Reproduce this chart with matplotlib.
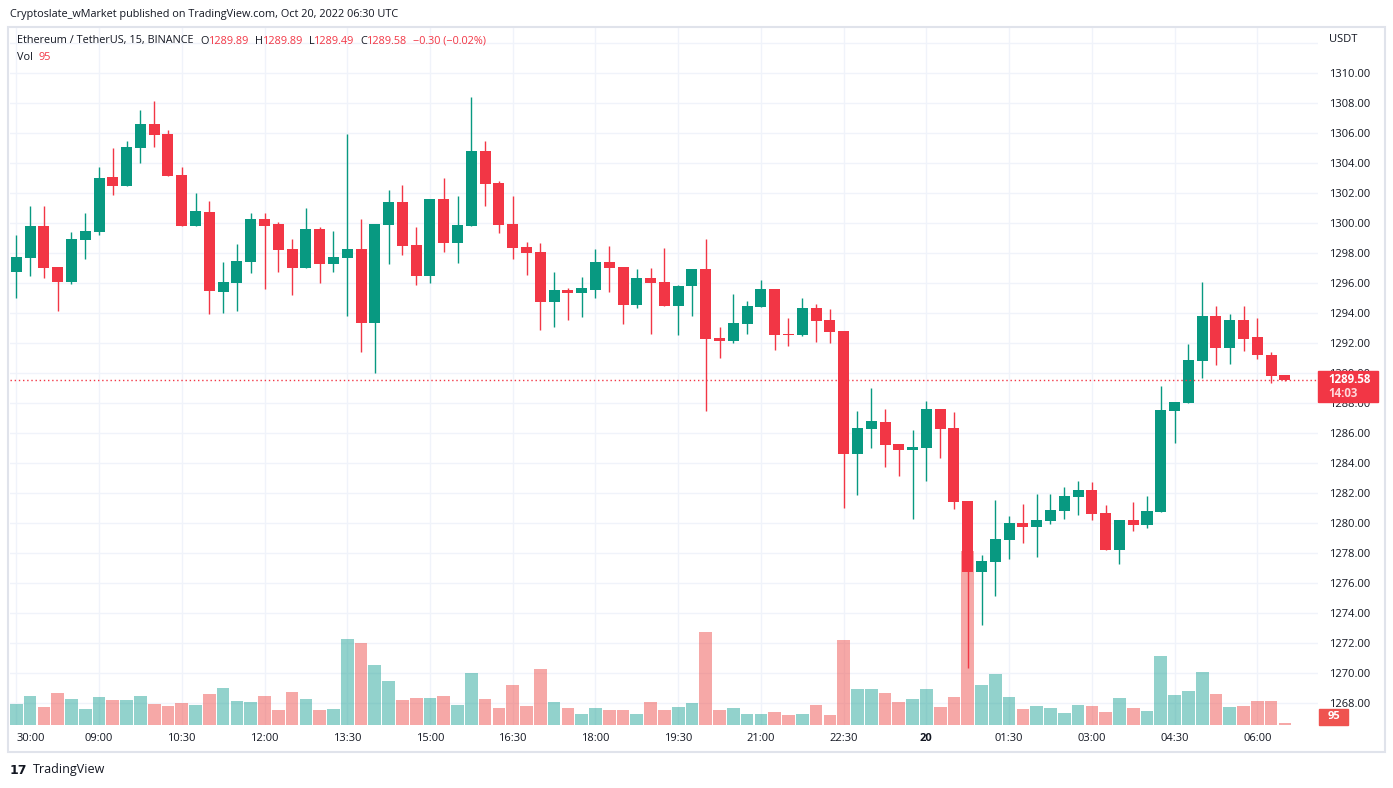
import numpy as np
import matplotlib.pyplot as plt
from matplotlib.patches import Rectangle

# 15-minute ETH/USDT candles, 07:30 Oct 19 -> 06:30 Oct 20
opens = [1296.78, 1297.71, 1299.82, 1297.09, 1296.11, 1298.91, 1299.44, 1303.09, 1302.51, 1305.04,
         1306.62, 1305.95, 1303.22, 1299.84, 1300.75, 1295.42, 1296.04, 1297.44, 1300.29, 1299.95,
         1298.29, 1297.04, 1299.62, 1297.31, 1297.71, 1298.29, 1293.38, 1299.91, 1301.42, 1298.55,
         1296.51, 1301.62, 1298.71, 1299.84, 1304.82, 1302.69, 1299.95, 1298.42, 1298.09, 1294.78,
         1295.55, 1295.38, 1295.55, 1297.42, 1297.09, 1294.58, 1296.36, 1296.09, 1294.51, 1295.82,
         1296.95, 1292.35, 1292.18, 1293.31, 1294.44, 1295.62, 1292.64, 1292.58, 1294.35, 1293.55,
         1292.84, 1284.64, 1286.31, 1286.75, 1285.29, 1284.91, 1285.04, 1287.62, 1286.35, 1281.49,
         1276.78, 1277.44, 1278.91, 1280.02, 1279.78, 1280.18, 1280.84, 1281.78, 1282.22, 1280.69,
         1278.24, 1280.22, 1279.91, 1280.78, 1287.51, 1288.04, 1290.84, 1293.82, 1291.71, 1293.55,
         1292.42, 1291.20, 1289.89]
highs = [1299.22, 1301.15, 1301.15, 1297.09, 1299.42, 1300.69, 1303.75, 1305.02, 1305.49, 1307.55,
         1308.15, 1306.22, 1303.75, 1302.02, 1301.49, 1297.42, 1298.62, 1300.69, 1300.69, 1300.09,
         1298.95, 1301.02, 1299.75, 1299.49, 1305.95, 1300.29, 1299.95, 1302.22, 1302.55, 1299.75,
         1301.62, 1303.02, 1301.82, 1308.42, 1305.49, 1302.82, 1301.82, 1298.75, 1298.69, 1296.75,
         1295.69, 1296.42, 1298.29, 1298.49, 1297.09, 1296.96, 1297.02, 1298.38, 1295.89, 1296.96,
         1298.95, 1293.09, 1295.29, 1294.82, 1296.22, 1295.62, 1293.69, 1295.02, 1294.62, 1294.29,
         1292.84, 1287.49, 1289.02, 1287.62, 1285.29, 1286.22, 1288.15, 1287.62, 1287.42, 1281.49,
         1277.89, 1281.55, 1280.49, 1281.29, 1281.95, 1281.95, 1282.42, 1282.82, 1282.75, 1281.22,
         1280.22, 1281.42, 1281.82, 1289.15, 1288.09, 1291.95, 1296.09, 1294.49, 1293.95, 1294.49,
         1293.69, 1291.42, 1289.89]
lows = [1295.04, 1296.51, 1296.37, 1294.18, 1295.98, 1297.64, 1299.24, 1301.91, 1302.51, 1304.04,
        1305.11, 1303.18, 1299.84, 1299.84, 1293.98, 1294.04, 1294.18, 1296.71, 1295.64, 1296.78,
        1295.24, 1297.04, 1296.04, 1296.78, 1293.84, 1291.44, 1290.04, 1297.31, 1297.91, 1295.91,
        1296.04, 1298.11, 1297.38, 1299.84, 1301.18, 1299.38, 1297.64, 1296.58, 1292.91, 1293.11,
        1293.58, 1293.78, 1295.04, 1295.44, 1293.31, 1294.38, 1292.64, 1294.51, 1292.58, 1293.84,
        1287.51, 1291.04, 1292.04, 1292.64, 1294.44, 1291.58, 1291.84, 1292.51, 1292.11, 1292.04,
        1281.04, 1281.91, 1285.04, 1283.78, 1283.18, 1280.31, 1282.84, 1284.38, 1280.98, 1270.38,
        1273.24, 1275.18, 1277.64, 1278.71, 1277.78, 1279.98, 1280.31, 1280.58, 1280.24, 1278.24,
        1277.31, 1279.51, 1279.71, 1280.78, 1285.38, 1288.04, 1289.71, 1290.58, 1290.64, 1291.51,
        1290.98, 1289.38, 1289.49]
closes = [1297.75, 1299.82, 1297.04, 1296.11, 1298.95, 1299.49, 1303.02, 1302.51, 1305.09, 1306.62,
          1305.91, 1303.18, 1299.84, 1300.82, 1295.51, 1296.09, 1297.49, 1300.29, 1299.84, 1298.24,
          1297.04, 1299.62, 1297.31, 1297.75, 1298.29, 1293.38, 1299.95, 1301.42, 1298.51, 1296.51,
          1301.62, 1298.71, 1299.89, 1304.82, 1302.64, 1299.91, 1298.38, 1298.04, 1294.78, 1295.55,
          1295.38, 1295.69, 1297.42, 1297.04, 1294.58, 1296.36, 1296.04, 1294.51, 1295.82, 1296.96,
          1292.31, 1292.18, 1293.35, 1294.49, 1295.62, 1292.58, 1292.55, 1294.35, 1293.51, 1292.78,
          1284.64, 1286.35, 1286.82, 1285.24, 1284.91, 1285.09, 1287.62, 1286.31, 1281.44, 1276.78,
          1277.49, 1278.95, 1280.02, 1279.78, 1280.22, 1280.89, 1281.82, 1282.22, 1280.64, 1278.24,
          1280.22, 1279.91, 1280.82, 1287.55, 1288.09, 1290.89, 1293.82, 1291.71, 1293.55, 1292.31,
          1291.24, 1289.84, 1289.58]
volumes = [1159, 1607, 991, 1775, 1439, 879, 1551, 1383, 1383, 1607,
           1159, 1047, 1215, 1103, 1719, 2055, 1327, 1271, 1607, 823,
           1831, 1439, 823, 879, 4799, 4575, 3343, 2447, 1383, 1495,
           1495, 1607, 1103, 2895, 1439, 935, 2223, 1047, 3119, 1271,
           935, 599, 935, 823, 823, 599, 1271, 823, 991, 1215,
           5191, 823, 935, 599, 599, 711, 543, 599, 1103, 543,
           4743, 1999, 1999, 1775, 1271, 1439, 1999, 991, 1551, 9727,
           2223, 2839, 1551, 879, 1047, 935, 655, 1103, 1047, 711,
           1495, 935, 767, 3847, 1663, 1887, 2951, 1719, 991, 1047,
           1327, 1327, 95]
time_labels = ["30:00", "09:00", "10:30", "12:00", "13:30", "15:00", "16:30", "18:00",
               "19:30", "21:00", "22:30", "20", "01:30", "03:00", "04:30", "06:00"]
price_ticks = np.arange(1268, 1313, 2)

GREEN, RED = "#089981", "#f23645"
VGREEN, VRED = "#26a69a", "#ef5350"
GRID, TEXT, BORDER = "#f0f3fa", "#131722", "#e0e3eb"

plt.rcParams["font.family"] = ["Open Sans", "DejaVu Sans"]

W, H = 1393, 788
fig = plt.figure(figsize=(W / 100, H / 100), dpi=100)
pos = [10 / W, 1 - 725 / H, 1308 / W, 698 / H]

ax = fig.add_axes(pos)                           # grid + price scale
axv = fig.add_axes(pos, sharex=ax)               # volume overlay
axc = fig.add_axes(pos, sharex=ax, sharey=ax)    # candles
for a in (axv, axc):
    a.patch.set_visible(False)
    a.axis("off")

idx = np.arange(len(opens))
o, c = np.array(opens), np.array(closes)
up = c >= o

ax.set_xlim(-0.457, 94.4)
ax.set_ylim(1266.553, 1313.087)
axv.set_ylim(0, 698 * 56)

# grid / scales
ax.set_yticks(price_ticks)
ax.set_yticklabels([f"{v:.2f}" if v < 1311 else "" for v in price_ticks])
ax.yaxis.tick_right()
ax.set_xticks(np.arange(0, 91, 6))
ax.set_xticklabels(time_labels)
ax.grid(color=GRID, lw=1)
ax.set_axisbelow(True)
ax.tick_params(length=0, labelsize=8, colors=TEXT)
ax.tick_params(axis="y", pad=8)
ax.tick_params(axis="x", pad=6)
for s in ax.spines.values():
    s.set_visible(False)
for t in ax.get_xticklabels():
    if t.get_text() == "20":
        t.set_fontweight("bold")
    if t.get_text() == "30:00":
        t.set_ha("left")

# volume
axv.bar(idx, volumes, width=0.92, color=np.where(up, VGREEN, VRED), alpha=0.5, lw=0)

# candles
cols = np.where(up, GREEN, RED)
axc.vlines(idx, lows, highs, colors=cols, lw=1)
axc.bar(idx, np.maximum(np.abs(c - o), 0.07), bottom=np.minimum(o, c), width=0.8, color=cols, lw=0)
axc.axhline(closes[-1], color=RED, lw=1, ls=(0, (1, 2)))

# last price label (covers the 1290.00 tick, as on the original)
tr = axc.get_yaxis_transform()
axc.add_patch(Rectangle((1.0, closes[-1] - 1.49), 0.046, 2.06, transform=tr,
                        color=RED, clip_on=False, zorder=5))
axc.text(1.0077, closes[-1] + 0.03, f"{closes[-1]:.2f}", transform=tr, color="white",
         fontsize=8.3, fontweight="bold", va="center", zorder=6, clip_on=False)
axc.text(1.0077, closes[-1] - 0.96, "14:03", transform=tr, color="#ffd6d9",
         fontsize=8.3, fontweight="bold", va="center", zorder=6, clip_on=False)

# volume label
axv.add_patch(Rectangle((1.0008, 0), 0.0222, 0.023, transform=axv.transAxes,
                        color=VRED, clip_on=False, zorder=5))
axv.text(1.0119, 0.0115, str(volumes[-1]), transform=axv.transAxes, color="white",
         fontsize=8, fontweight="bold", ha="center", va="center", zorder=6, clip_on=False)

# header and legend
fig.text(10 / W, 1 - 14 / H, "Cryptoslate_wMarket published on TradingView.com, Oct 20, 2022 06:30 UTC",
         fontsize=7.8, color=TEXT, va="center")
fig.text(1329 / W, 1 - 40 / H, "USDT", fontsize=8, color=TEXT, va="center")

legend = [("Ethereum / TetherUS, 15, BINANCE", TEXT, 0), ("O", TEXT, 5), ("1289.89", RED, 0),
          ("H", TEXT, 4), ("1289.89", RED, 0), ("L", TEXT, 4), ("1289.49", RED, 0),
          ("C", TEXT, 4), ("1289.58", RED, 0), ("\u22120.30 (\u22120.02%)", RED, 4)]
prev = fig.text(17 / W, 1 - 41 / H, legend[0][0], fontsize=7.8, color=legend[0][1], va="center")
for txt, col, gap in legend[1:]:
    prev = ax.annotate(txt, xy=(1, 0.5), xycoords=prev, xytext=(gap, 0), textcoords="offset points",
                       fontsize=7.8, color=col, va="center", ha="left", annotation_clip=False)

vol = fig.text(17 / W, 1 - 58 / H, "Vol", fontsize=7.8, color=TEXT, va="center")
ax.annotate(str(volumes[-1]), xy=(1, 0.5), xycoords=vol, xytext=(4, 0), textcoords="offset points",
            fontsize=7.8, color=RED, va="center", annotation_clip=False)

# footer logo
fig.text(10 / W, 1 - 770 / H, "17", fontsize=9, fontweight="heavy", color=TEXT, va="center",
         family="DejaVu Sans")
fig.text(33 / W, 1 - 770 / H, "TradingView", fontsize=9, color=TEXT, va="center")

# outer frame
fig.add_artist(Rectangle((8 / W, 1 - 752 / H), 1377 / W, 725 / H, transform=fig.transFigure,
                         fill=False, ec=BORDER, lw=1.5))

fig.savefig("out.png", dpi=100)
